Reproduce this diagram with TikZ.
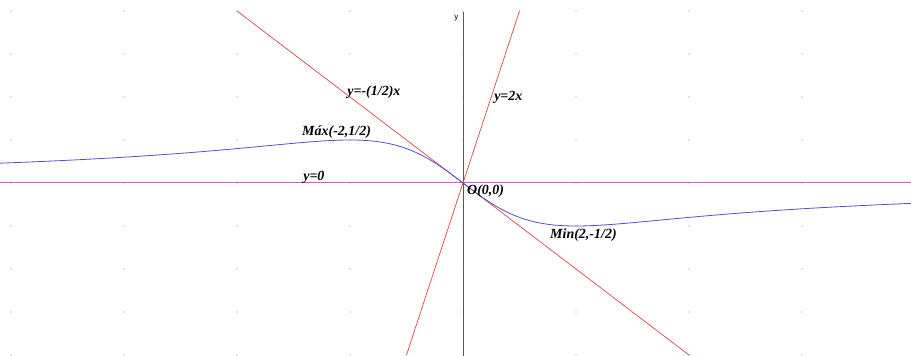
\documentclass[tikz,border=0pt]{standalone}
\usepackage{fontspec}
\setmainfont{Liberation Serif}
\setsansfont{Liberation Sans}
\usepackage{tikz}
\usetikzlibrary{positioning}

\definecolor{curveblue}{RGB}{80,80,205}
\definecolor{linered}{RGB}{215,70,70}
\definecolor{asymmag}{RGB}{215,85,215}
\definecolor{axisgray}{RGB}{90,90,90}
\definecolor{dotgray}{RGB}{140,140,140}

\tikzset{
  lbl/.style={anchor=west, inner sep=0pt, font=\bfseries\itshape\fontsize{14}{16}\selectfont},
  redline/.style={draw=linered, line width=0.7pt},
}

\begin{document}
\begin{tikzpicture}[x=56.5pt, y=86pt]
      \useasboundingbox (-463pt,-173pt) rectangle (448pt,183pt);
      % dotted grid, drawn first
      \foreach \i in {-8,-6,...,6}
        \foreach \j in {-2,-1.5,...,2}
          \fill[dotgray] (\i,\j) circle (0.55pt);
      % y axis
      \coordinate (ybot) at (0,-2.1);
      \coordinate (ytop) at (0,1.99);
      \draw[axisgray, line width=0.9pt] (ybot) -- (ytop);
      \node[font=\sffamily\fontsize{8}{9}\selectfont, anchor=east, inner sep=0pt] (ylab) at (-0.08,1.92) {y};
      % asymptote y=0
      \coordinate (asymL) at (-8.3,0);
      \coordinate (asymR) at (8,0);
      \draw[asymmag, line width=1pt] (asymL) -- (asymR);
      % tangent and normal at the origin
      \coordinate (tanA) at (-4,2);
      \coordinate (tanB) at (4,-2);
      \coordinate (normA) at (-1,-2);
      \coordinate (normB) at (1,2);
      \draw[redline] (tanA) -- (tanB);
      \draw[redline] (normA) -- (normB);
      % the curve
      \draw[curveblue, line width=0.8pt] plot[domain=-8.3:8, samples=240, smooth] (\x,{-2*\x/(\x*\x+4)});
      % labels
      \node[lbl] (tanlab) at (-2.05,1.06) {y=-(1/2)x};
      \node[lbl] (normlab) at (0.55,1.0) {y=2x};
      \node[lbl] (maxlab) at (-2.85,0.595) {Máx(-2,1/2)};
      \node[lbl] (asymlab) at (-2.83,0.07) {y=0};
      \node[lbl] (olab) at (0.07,-0.093) {O(0,0)};
      \node[lbl] (minlab) at (1.54,-0.605) {Min(2,-1/2)};
    \end{tikzpicture}
\end{document}
